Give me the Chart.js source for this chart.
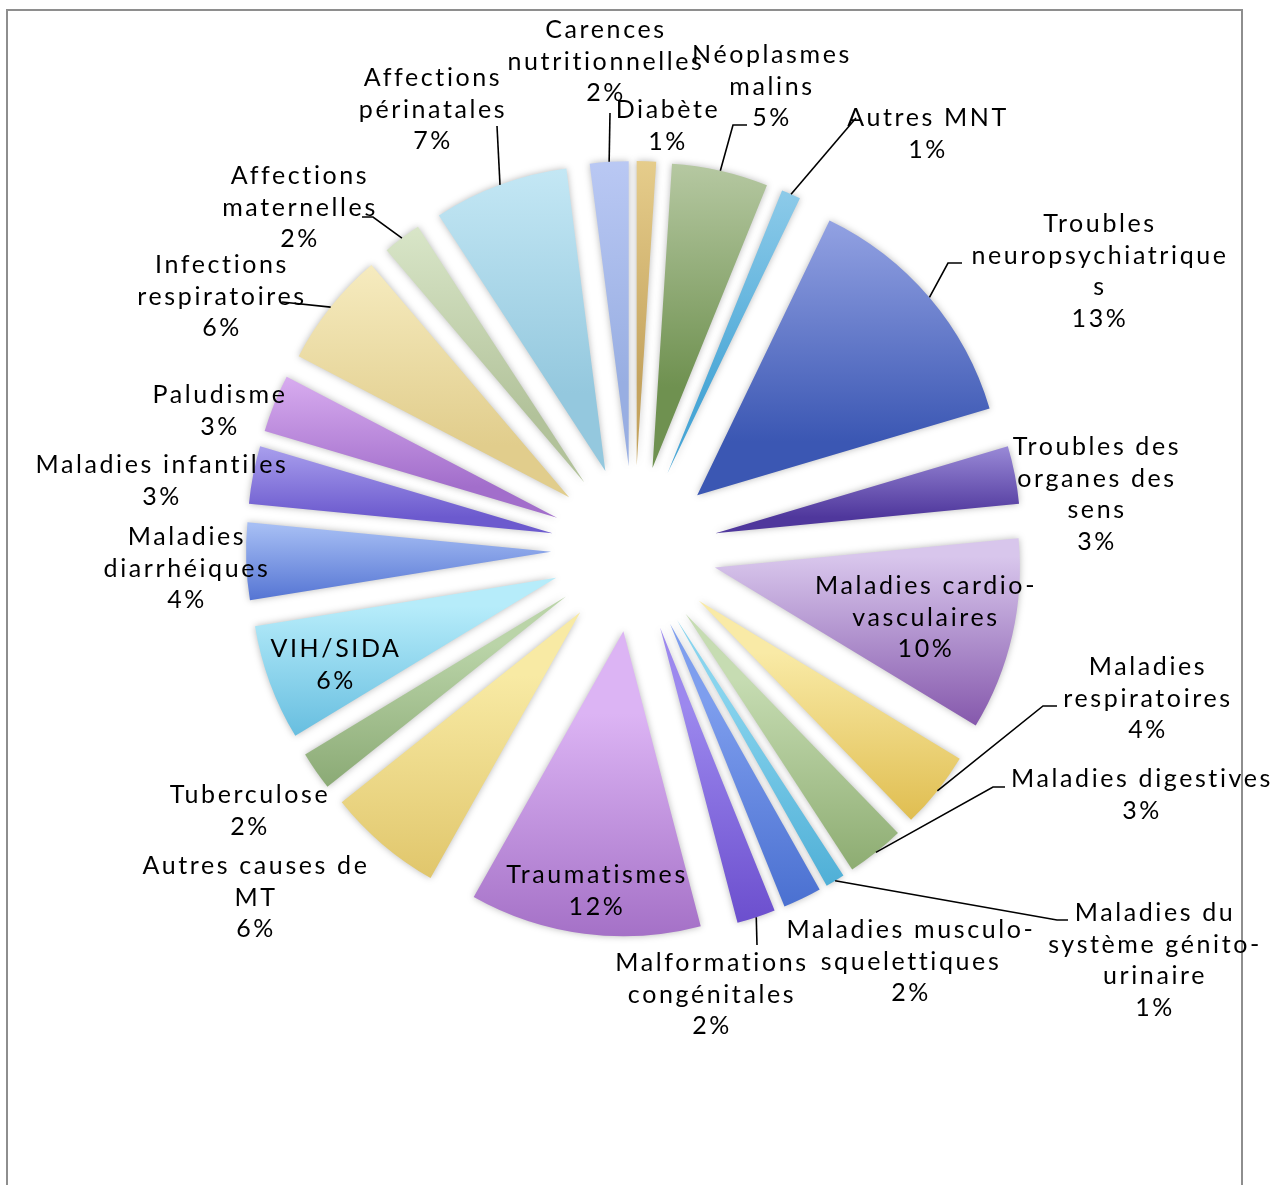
<!DOCTYPE html>
<html lang="fr">
<head>
<meta charset="utf-8">
<title>Causes de décès</title>
<script src="https://cdn.jsdelivr.net/npm/chart.js@4.4.0/dist/chart.umd.min.js"></script>
<style>
  html, body { margin: 0; padding: 0; background: #fff; overflow: hidden; }
  #cadre { position: relative; width: 1287px; height: 1185px; }
</style>
</head>
<body>
<div id="cadre"><canvas id="camembert"></canvas></div>
<script>
// causes de décès, dans l'ordre des tranches (sens horaire depuis midi)
const categories = [
  'Diabète', 'Néoplasmes\nmalins', 'Autres MNT', 'Troubles\nneuropsychiatrique\ns',
  'Troubles des\norganes des\nsens', 'Maladies cardio-\nvasculaires', 'Maladies\nrespiratoires',
  'Maladies digestives', 'Maladies du\nsystème génito-\nurinaire', 'Maladies musculo-\nsquelettiques',
  'Malformations\ncongénitales', 'Traumatismes', 'Autres causes de\nMT', 'Tuberculose',
  'VIH/SIDA', 'Maladies\ndiarrhéiques', 'Maladies infantiles', 'Paludisme',
  'Infections\nrespiratoires', 'Affections\nmaternelles', 'Affections\npérinatales',
  'Carences\nnutritionnelles'
]
const valeurs = [1, 5, 1, 13, 3, 10, 4, 3, 1, 2, 2, 12, 6, 2, 6, 4, 3, 3, 6, 2, 7, 2]

// dégradé de chaque tranche : haut clair -> bas foncé
const couleurs = [
  ['#f2dc9c', '#c4a35e'], ['#cfdcbf', '#6f9150'], ['#a6d8f0', '#48a6d6'], ['#a8b4ee', '#3b57b3'],
  ['#aa9ce4', '#4f379c'], ['#d8c6ec', '#7c4ca5'], ['#f9eaa6', '#d8b036'], ['#c6dcb2', '#7a9c5c'],
  ['#88d4ee', '#3ba2ce'], ['#7e9eee', '#3860c6'], ['#9c88ee', '#5a3ac2'], ['#dcb4f4', '#9058b6'],
  ['#f8eaa4', '#d9bb5a'], ['#bad4a8', '#7b9c64'], ['#b6ecfa', '#56b4da'], ['#a6beF4', '#5272d2'],
  ['#b6aef4', '#6c5ace'], ['#e8befa', '#a26ecb'], ['#fcf4ce', '#e1cd8c'], ['#e6f2d8', '#b2c29a'],
  ['#d4f2fc', '#94c8de'], ['#c6d2fa', '#98aee2']
]

const RAYON = 305   // rayon des tranches
const ECART = 83    // décalage de chaque tranche vers l'extérieur

// position des étiquettes (centre de la 1re ligne) et trait de rappel éventuel
const etiquettes = [
  { x: 668, y: 110 },
  { x: 772, y: 55, trait: [[733, 125], [747, 125]] },
  { x: 928, y: 118, trait: [[856, 118]] },
  { x: 1100, y: 224, trait: [[948, 263], [962, 263]] },
  { x: 1097, y: 447 },
  { x: 926, y: 586 },
  { x: 1148, y: 667, trait: [[1043, 706], [1057, 706]] },
  { x: 1142, y: 779, trait: [[993, 787], [1005, 787]] },
  { x: 1155, y: 913, trait: [[1057, 920], [1068, 920]] },
  { x: 911, y: 930 },
  { x: 712, y: 963, trait: [[757, 945]] },
  { x: 597, y: 875 },
  { x: 256, y: 866 },
  { x: 250, y: 795 },
  { x: 336, y: 649 },
  { x: 187, y: 537 },
  { x: 162, y: 465 },
  { x: 220, y: 395 },
  { x: 222, y: 265, trait: [[282, 302]] },
  { x: 300, y: 176, trait: [[373, 217], [362, 217]] },
  { x: 433, y: 78, trait: [[497, 126]] },
  { x: 606, y: 30, trait: [[610, 113]] }
]
const INTERLIGNE = 31.5

function degradeTranche(context) {
  const chart = context.chart
  const zone = chart.chartArea
  const i = context.dataIndex
  const [clair, fonce] = couleurs[i]
  if (!zone) return fonce
  const data = context.dataset.data
  const total = data.reduce((a, b) => a + b, 0)
  const avant = data.slice(0, i).reduce((a, b) => a + b, 0)
  const a0 = avant / total * 2 * Math.PI - Math.PI / 2
  const a1 = (avant + data[i]) / total * 2 * Math.PI - Math.PI / 2
  const mi = (a0 + a1) / 2
  const ox = (zone.left + zone.right) / 2 + Math.cos(mi) * ECART
  const oy = (zone.top + zone.bottom) / 2 + Math.sin(mi) * ECART
  let yMin = oy, yMax = oy
  for (let k = 0; k <= 30; k++) {
    const y = oy + Math.sin(a0 + (a1 - a0) * k / 30) * RAYON
    yMin = Math.min(yMin, y)
    yMax = Math.max(yMax, y)
  }
  const g = chart.ctx.createLinearGradient(ox, yMin, ox, yMax)
  g.addColorStop(0, clair)
  g.addColorStop(1, fonce)
  return g
}

// Chart.js grossit et rétrécit les tranches décalées (offset) :
// on garde le même rayon et l'angle réel pour chacune, seul le décalage reste
const eclatement = {
  id: 'eclatement',
  afterDatasetUpdate(chart, args) {
    args.meta.data.forEach(arc => {
      const pousse = (arc.options.offset || 0) / 4
      const fix = 1 - Math.sin(Math.min(Math.PI, arc.circumference))
      const delta = pousse * fix / (2 * Math.PI * RAYON)
      arc.outerRadius = RAYON - pousse * fix
      arc.startAngle -= delta
      arc.endAngle += delta
    })
  }
}

const ombre = {
  id: 'ombre',
  beforeDatasetsDraw(chart) {
    const c = chart.ctx
    c.save()
    c.shadowColor = 'rgba(0,0,0,0.28)'
    c.shadowBlur = 7
  },
  afterDatasetsDraw(chart) {
    chart.ctx.restore()
  }
}

const bordure = {
  id: 'bordure',
  beforeDraw(chart) {
    const c = chart.ctx
    c.save()
    c.strokeStyle = '#8e8e8e'
    c.lineWidth = 2
    c.beginPath()
    c.moveTo(7, chart.height + 5)
    c.lineTo(7, 10)
    c.lineTo(1242, 10)
    c.lineTo(1242, chart.height + 5)
    c.stroke()
    c.restore()
  }
}

const libelles = {
  id: 'libelles',
  afterDraw(chart) {
    const c = chart.ctx
    const arcs = chart.getDatasetMeta(0).data
    c.save()
    // traits de rappel
    c.strokeStyle = '#000'
    c.lineWidth = 1.6
    etiquettes.forEach((e, i) => {
      if (!e.trait) return
      const arc = arcs[i]
      const mi = (arc.startAngle + arc.endAngle) / 2
      c.beginPath()
      c.moveTo(arc.x + Math.cos(mi) * (RAYON + ECART), arc.y + Math.sin(mi) * (RAYON + ECART))
      e.trait.forEach(p => c.lineTo(p[0], p[1]))
      c.stroke()
    })
    // textes
    c.fillStyle = '#000'
    c.font = '25px Lato'
    c.letterSpacing = '2.6px'
    c.textAlign = 'center'
    c.textBaseline = 'middle'
    etiquettes.forEach((e, i) => {
      const lignes = categories[i].split('\n').concat(valeurs[i] + '%')
      lignes.forEach((t, k) => c.fillText(t, e.x, e.y + k * INTERLIGNE))
    })
    c.restore()
  }
}

new Chart(document.getElementById('camembert'), {
  type: 'pie',
  data: {
    labels: categories,
    datasets: [{
      data: valeurs,
      backgroundColor: degradeTranche,
      borderWidth: 0,
      offset: ECART * 4,
      radius: RAYON
    }]
  },
  options: {
    responsive: true,
    maintainAspectRatio: false,
    animation: false,
    events: [],
    layout: { padding: { left: 0, top: 0, right: 19, bottom: 87 } },
    plugins: {
      legend: { display: false },
      tooltip: { enabled: false }
    }
  },
  plugins: [bordure, eclatement, ombre, libelles]
})
</script>
</body>
</html>
